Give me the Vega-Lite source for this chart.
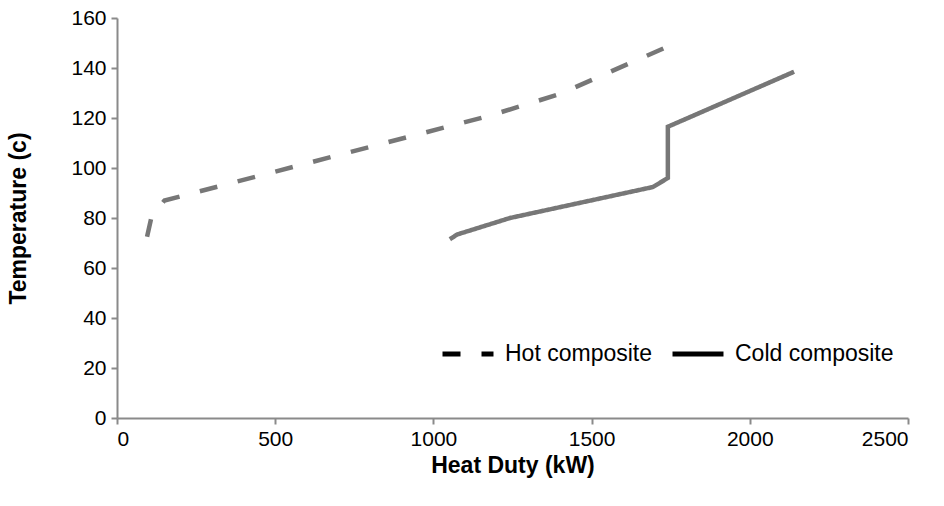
{
  "$schema": "https://vega.github.io/schema/vega-lite/v6.json",
  "autosize": "none",
  "width": 791,
  "height": 400,
  "padding": {"left": 117, "top": 18, "right": 36, "bottom": 88},
  "background": "white",
  "config": {
    "font": "Liberation Sans",
    "view": {"stroke": null},
    "axis": {
      "grid": false,
      "domainColor": "#8a8a8a",
      "domainWidth": 2,
      "tickColor": "#8a8a8a",
      "tickWidth": 2,
      "tickSize": 6,
      "labelFont": "Liberation Sans",
      "labelFontSize": 21,
      "labelColor": "#000000",
      "titleFont": "Liberation Sans",
      "titleFontSize": 23,
      "titleFontWeight": "bold",
      "titleColor": "#000000"
    }
  },
  "data": {
    "values": [
      {"series": "Hot composite", "i": 1, "duty": 95, "temp": 72.5},
      {"series": "Hot composite", "i": 2, "duty": 110, "temp": 81},
      {"series": "Hot composite", "i": 3, "duty": 150, "temp": 87},
      {"series": "Hot composite", "i": 4, "duty": 1180, "temp": 121},
      {"series": "Hot composite", "i": 5, "duty": 1400, "temp": 129.6},
      {"series": "Hot composite", "i": 6, "duty": 1780, "temp": 150.8},
      {"series": "Cold composite", "i": 1, "duty": 1052, "temp": 71.5},
      {"series": "Cold composite", "i": 2, "duty": 1075, "temp": 73.4},
      {"series": "Cold composite", "i": 3, "duty": 1242, "temp": 80},
      {"series": "Cold composite", "i": 4, "duty": 1694, "temp": 92.4},
      {"series": "Cold composite", "i": 5, "duty": 1741, "temp": 96},
      {"series": "Cold composite", "i": 6, "duty": 1741, "temp": 116.5},
      {"series": "Cold composite", "i": 7, "duty": 2140, "temp": 138.5}
    ]
  },
  "mark": {"type": "line", "color": "#777777", "strokeWidth": 4.5, "strokeCap": "butt", "strokeJoin": "miter"},
  "encoding": {
    "x": {
      "field": "duty", "type": "quantitative",
      "scale": {"domain": [0, 2500], "nice": false},
      "axis": {"values": [0, 500, 1000, 1500, 2000, 2500], "format": "d", "title": "Heat Duty (kW)", "labelPadding": 4, "titlePadding": 5}
    },
    "y": {
      "field": "temp", "type": "quantitative",
      "scale": {"domain": [0, 160], "nice": false},
      "axis": {"values": [0, 20, 40, 60, 80, 100, 120, 140, 160], "format": "d", "title": "Temperature (c)", "labelPadding": 5, "titleX": -99, "titleY": 200, "titleBaseline": "middle", "titleAngle": 270}
    },
    "order": {"field": "i", "type": "quantitative"},
    "detail": {"field": "series"},
    "strokeDash": {
      "field": "series", "type": "nominal",
      "scale": {"domain": ["Hot composite", "Cold composite"], "range": [[18, 21], [1, 0]]},
      "legend": {
        "title": null,
        "orient": "none",
        "direction": "horizontal",
        "legendX": 323,
        "legendY": 308,
        "symbolType": "stroke",
        "symbolSize": 2600,
        "symbolStrokeWidth": 5,
        "symbolStrokeColor": "#000000",
        "labelFontSize": 23,
        "labelColor": "#000000",
        "labelOffset": 9,
        "columnPadding": 9,
        "encode": {
          "symbols": {
            "update": {
              "strokeDash": [
                {"test": "datum.value === 'Hot composite'", "value": [12, 9]},
                {"value": [1, 0]}
              ],
              "stroke": {"value": "#000000"}
            }
          }
        }
      }
    }
  }
}
